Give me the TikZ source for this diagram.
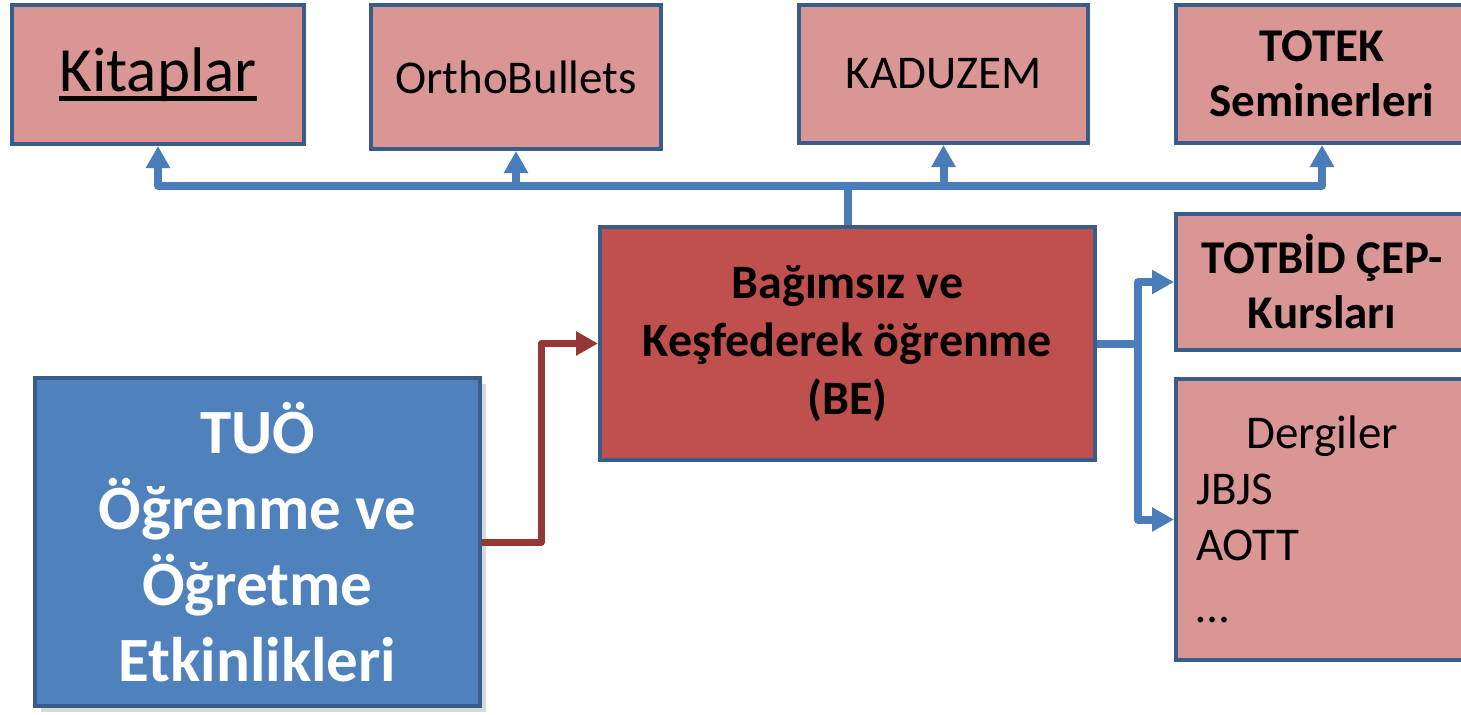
\documentclass[tikz,border=0pt]{standalone}
\usepackage{fontspec}
\setmainfont{Carlito}
\usetikzlibrary{arrows.meta,shadows}
\definecolor{pinkbox}{HTML}{D99694}
\definecolor{redbox}{HTML}{C0504D}
\definecolor{bluebox}{HTML}{4F81BD}
\definecolor{boxline}{HTML}{385D8A}
\definecolor{bluelink}{HTML}{4A7EBB}
\definecolor{redlink}{HTML}{953735}
\newcommand{\thickul}[1]{\vtop{\hbox{#1}\kern-2.5pt\hrule height 2.5pt}}

\begin{document}
\begin{tikzpicture}[x=0.5pt,y=-0.5pt]
\tikzstyle{src}=[rectangle,draw=boxline,line width=2pt,fill=pinkbox,align=center,font=\fontsize{23.5}{28}\selectfont,minimum width=146pt]
\tikzstyle{bsrc}=[src,font=\fontsize{23.5}{27.5}\selectfont\bfseries]
\tikzstyle{blink}=[draw=bluelink,line width=4pt,line join=round,-{Triangle[width=11.5pt,length=11pt]}]
\useasboundingbox (0,0) rectangle (1461,714);
\clip (0,0) rectangle (1461,714);
\node[src,font=\fontsize{31.5}{38}\selectfont,minimum height=69.5pt] (kit) at (158,74.5) {\thickul{Kitaplar}};
\node[src,minimum width=145pt,minimum height=72pt] (ortho) at (516,77) {OrthoBullets};
\node[src,minimum width=144.5pt,minimum height=69pt] (kadu) at (943.5,74) {KADUZEM};
\node[bsrc,minimum height=69pt] (totek) at (1322,74) {TOTEK\\Seminerleri};
\node[src,fill=redbox,font=\fontsize{24}{29}\selectfont\bfseries,minimum width=247.5pt,minimum height=116.5pt] (be) at (847.5,343.5) {Bağımsız ve\\Keşfederek öğrenme\\(BE)};
\node[bsrc,minimum height=68pt] (totbid) at (1322,282) {TOTBİD ÇEP-\\Kursları};
\node[src,text width=126pt,inner xsep=10pt,align=left,minimum height=140.5pt] (dergi) at (1322,519.5) {\makebox[\linewidth]{Dergiler}\\JBJS\\AOTT\\[3pt]…};
\node[src,fill=bluebox,text=white,font=\fontsize{31.5}{38}\selectfont\bfseries,minimum width=222.5pt,minimum height=164pt,drop shadow={shadow xshift=3pt,shadow yshift=-3pt,opacity=0.3}] (tuo) at (257.5,542) {TUÖ\\Öğrenme ve\\Öğretme\\Etkinlikleri};
\draw[blink] (be.north) -- ++(0,-39) coordinate (tj) -| (kit.south);
\draw[blink] (tj) -| (ortho.south);
\draw[blink] (tj) -| (kadu.south);
\draw[blink] (tj) -| (totek.south);
\draw[blink,-] (be.east) -- ++(41,0) coordinate (rj);
\draw[blink] (rj) |- (totbid.west);
\draw[blink] (rj) |- (dergi.west);
\draw[blink,draw=redlink,line width=3.5pt] (tuo.east) -- ++(59,0) |- (be.west);
\end{tikzpicture}
\end{document}
